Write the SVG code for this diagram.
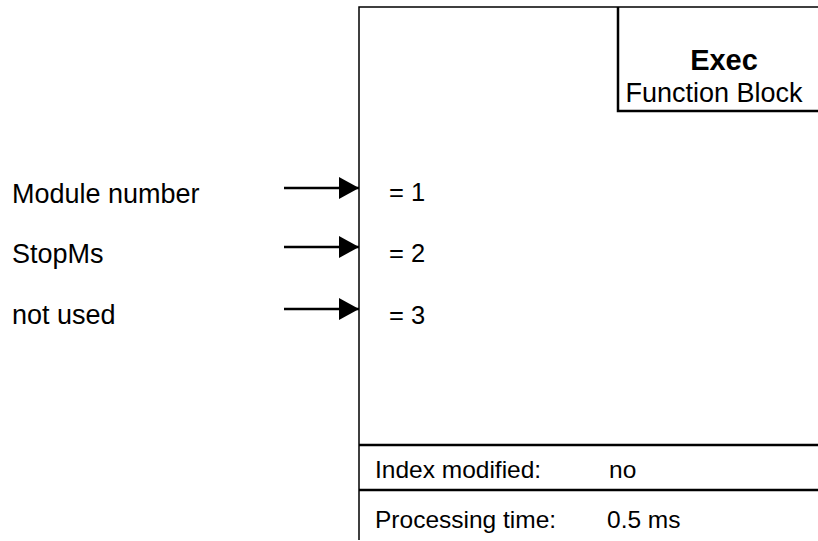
<svg xmlns="http://www.w3.org/2000/svg" width="818" height="541" viewBox="0 0 818 541">
<defs>
<style>
text{font-family:"Liberation Sans",Arial,sans-serif;fill:#000;font-size:25.5px}
.lab{font-size:27px}
.fb{font-size:27px}
.inf{font-size:24.5px}
.b{font-weight:bold;font-size:29px}
line,path{stroke:#000;fill:none}
.thin{stroke-width:1.5}
.thick{stroke-width:2.5}
</style>
<marker id="ah" markerWidth="20" markerHeight="22" refX="20" refY="11" orient="auto" markerUnits="userSpaceOnUse">
<path d="M0,0 L20,11 L0,22 Z" style="fill:#000;stroke:none"/>
</marker>
</defs>
<g id="block">
<path class="thin" d="M359,540 V7 H818"/>
<line class="thick" x1="359" y1="445" x2="818" y2="445"/>
<line class="thick" x1="359" y1="490" x2="818" y2="490"/>
</g>
<g id="title">
<path class="thick" d="M618,7 V111 H818"/>
<text class="b" x="724" y="70" text-anchor="middle">Exec</text>
<text class="fb" x="714" y="102" text-anchor="middle">Function Block</text>
</g>
<g id="connectors">
<line class="thick" x1="284" y1="188" x2="359" y2="188" marker-end="url(#ah)"/>
<line class="thick" x1="284" y1="247" x2="359" y2="247" marker-end="url(#ah)"/>
<line class="thick" x1="284" y1="309" x2="359" y2="309" marker-end="url(#ah)"/>
</g>
<g id="in1">
<text class="lab" x="12" y="203">Module number</text>
<text x="389" y="201">= 1</text>
</g>
<g id="in2">
<text class="lab" x="12" y="263">StopMs</text>
<text x="389" y="262">= 2</text>
</g>
<g id="in3">
<text class="lab" x="12" y="324">not used</text>
<text x="389" y="324">= 3</text>
</g>
<g id="info">
<text class="inf" x="375" y="478">Index modified:</text>
<text class="inf" x="609" y="478">no</text>
<text class="inf" x="375" y="528">Processing time:</text>
<text class="inf" x="607" y="528">0.5 ms</text>
</g>
</svg>
